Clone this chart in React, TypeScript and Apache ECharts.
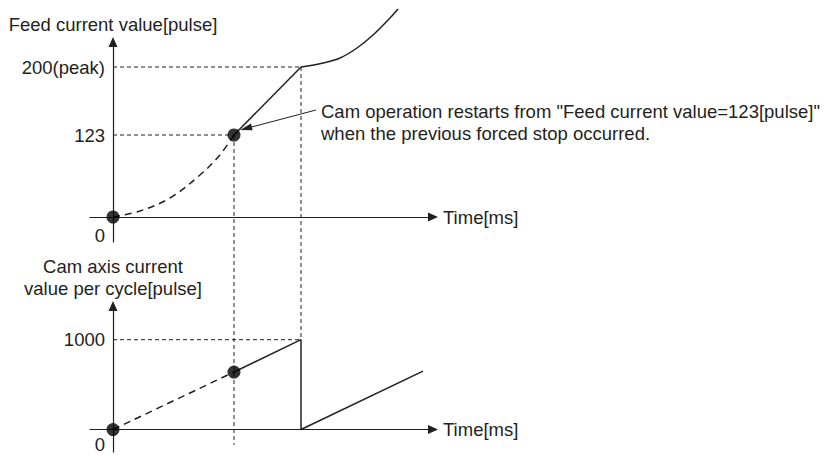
import React, { useEffect, useRef } from 'react';
import * as echarts from 'echarts';

const INK = '#231f20';
const FONT = '"Liberation Sans", Arial, Helvetica, sans-serif';
const FS = 18.5;

// Upper chart: feed current value (schematic heights), tick labels
const feedTickValues = [0, 82, 150];
const feedTickLabels = ['0', '123', '200(peak)'];
// Lower chart: cam axis current value per cycle [pulse]
const camTickValues = [0, 1000];
const camTickLabels = ['0', '1000'];

// time axis range (schematic ms)
const timeMin = -23;
const timeMax = 320;
const restartTime = 121;
const peakTime = 188;
const guideBottom = -170;

// Upper chart series
const feedBeforeStop = [[0, 0], [27, 6], [57, 19], [87, 42], [106, 61], [121, 82]];
const feedRestart = [[121, 82], [188, 150]];
const feedAfterPeak = [[188, 150], [210, 154], [227, 159], [244, 169], [260, 182], [277, 199], [285, 208]];
const feedGuidePeak = [[0, 150], [188, 150]];
const feedGuideRestart = [[0, 82], [121, 82]];
const feedDots = [[0, 0], [121, 82]];

// Lower chart series
const camBeforeStop = [[0, 0], [121, 640]];
const camAfterRestart = [[121, 640], [188, 1000], [188, 0], [310, 650]];
const camGuide = [[0, 1000], [188, 1000]];
const camDots = [[0, 0], [121, 640]];

// Annotation
const annotationFrom = [203, 107];
const annotationTo = [133, 88.5];
const annotationText =
  'Cam operation restarts from "Feed current value=123[pulse]"\nwhen the previous forced stop occurred.';

const GRID_LEFT = 90;
const GRID_WIDTH = 343;

export default function App() {
  const ref = useRef<HTMLDivElement>(null);

  useEffect(() => {
    const chart = echarts.init(ref.current!, null, { renderer: 'svg' });

    const textStyle = { color: INK, fontSize: FS, fontFamily: FONT };
    const lineStyle = { color: INK, width: 1.2 };

    const fmt = (values: number[], labels: string[]) => (v: number) => {
      const i = values.indexOf(v);
      if (i < 0) return '';
      return v === 0 ? '{zero|' + labels[i] + '}' : labels[i];
    };

    // y axis placed at time 0 (through the x scale)
    const yOffset = -((0 - timeMin) / (timeMax - timeMin)) * GRID_WIDTH;

    const xAxis = (gridIndex: number) => ({
      type: 'value',
      gridIndex,
      min: timeMin,
      max: timeMax,
      name: 'Time[ms]',
      nameLocation: 'end',
      nameGap: 10,
      nameTextStyle: { ...textStyle, align: 'left', verticalAlign: 'middle' },
      axisLine: {
        show: true,
        onZero: true,
        symbol: ['none', 'triangle'],
        symbolSize: [9, 10],
        lineStyle,
      },
      axisTick: { show: false },
      axisLabel: { show: false },
      splitLine: { show: false },
    });

    const yAxis = (
      gridIndex: number,
      min: number,
      max: number,
      values: number[],
      labels: string[],
      name: string,
      nameGap: number,
      zeroDrop: number
    ) => ({
      type: 'value',
      gridIndex,
      min,
      max,
      offset: yOffset,
      name,
      nameLocation: 'end',
      nameGap,
      nameTextStyle: { ...textStyle, lineHeight: 22, align: 'center', verticalAlign: 'bottom' },
      axisLine: {
        show: true,
        onZero: false,
        symbol: ['none', 'triangle'],
        symbolSize: [9, 10],
        lineStyle,
      },
      axisTick: { show: false },
      splitLine: { show: false },
      axisLabel: {
        show: true,
        customValues: values,
        margin: 8,
        ...textStyle,
        formatter: fmt(values, labels),
        rich: { zero: { ...textStyle, lineHeight: 14, padding: [zeroDrop * 2, 0, 0, 0] } },
      },
    });

    const line = (
      xi: number,
      data: number[][],
      width: number,
      type: any,
      extra: any = {}
    ) => ({
      type: 'line',
      xAxisIndex: xi,
      yAxisIndex: xi,
      data,
      symbol: 'none',
      lineStyle: { color: INK, width, type },
      silent: true,
      ...extra,
    });

    const dots = (xi: number, data: number[][], extra: any = {}) => ({
      type: 'scatter',
      xAxisIndex: xi,
      yAxisIndex: xi,
      data,
      symbol: 'circle',
      symbolSize: 13,
      itemStyle: { color: '#000' },
      silent: true,
      z: 5,
      ...extra,
    });

    const option: any = {
      animation: false,
      backgroundColor: '#ffffff',
      grid: [
        { left: GRID_LEFT, width: GRID_WIDTH, top: 42, height: 200, outerBoundsMode: 'none', containLabel: false },
        { left: GRID_LEFT, width: GRID_WIDTH, top: 306, height: 146, outerBoundsMode: 'none', containLabel: false },
      ],
      xAxis: [xAxis(0), xAxis(1)],
      yAxis: [
        yAxis(0, -25, 175, feedTickValues, feedTickLabels, 'Feed current value[pulse]', 7, 18),
        yAxis(1, -250, 1375, camTickValues, camTickLabels, 'Cam axis current\nvalue per cycle[pulse]', 7, 15),
      ],
      series: [
        line(0, feedGuidePeak, 1, [4, 3]),
        line(0, feedGuideRestart, 1, [4, 3]),
        line(0, feedBeforeStop, 1.5, [7, 5], { smooth: 0.35 }),
        line(0, feedRestart, 1.5, 'solid'),
        line(0, feedAfterPeak, 1.5, 'solid', { smooth: 0.35, clip: false }),
        dots(0, feedDots, {
          markLine: {
            silent: true,
            symbol: ['none', 'triangle'],
            symbolSize: [7, 12],
            label: { show: false },
            lineStyle: { color: INK, width: 1, type: 'solid' },
            data: [[{ coord: annotationFrom }, { coord: annotationTo }]],
          },
        }),
        line(1, camGuide, 1, [4, 3]),
        line(1, camBeforeStop, 1.5, [7, 5]),
        line(1, camAfterRestart, 1.5, 'solid'),
        dots(1, camDots),
      ],
    };

    chart.setOption(option);

    const a = chart.convertToPixel({ gridIndex: 0 } as any, [restartTime, feedTickValues[1]]) as number[];
    const b = chart.convertToPixel({ gridIndex: 1 } as any, [restartTime, guideBottom]) as number[];
    const c = chart.convertToPixel({ gridIndex: 0 } as any, [peakTime, feedTickValues[2]]) as number[];
    const d = chart.convertToPixel({ gridIndex: 1 } as any, [peakTime, camTickValues[1]]) as number[];

    const guideStyle = { stroke: INK, lineWidth: 1, lineDash: [4, 3] };

    chart.setOption({
      graphic: [
        {
          type: 'text',
          left: 321,
          top: 100,
          silent: true,
          style: {
            text: annotationText,
            fill: INK,
            font: `${FS}px ${FONT}`,
            lineHeight: 22,
          },
        },
        {
          type: 'line',
          silent: true,
          z: 1,
          shape: { x1: a[0], y1: a[1], x2: b[0], y2: b[1] },
          style: guideStyle,
        },
        {
          type: 'line',
          silent: true,
          z: 1,
          shape: { x1: c[0], y1: c[1], x2: d[0], y2: d[1] },
          style: guideStyle,
        },
      ],
    });

    return () => chart.dispose();
  }, []);

  return (
    <div
      ref={ref}
      style={{ position: 'fixed', left: 0, top: 0, width: 824, height: 456, background: '#fff' }}
    />
  );
}
